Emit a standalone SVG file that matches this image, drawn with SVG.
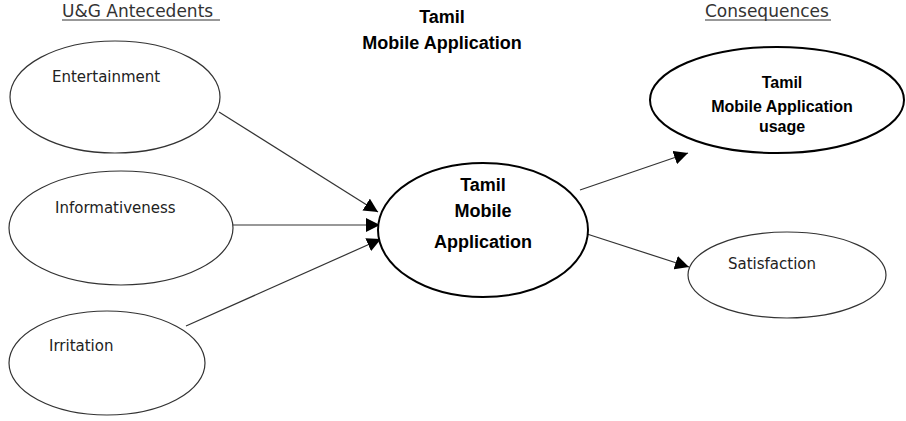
<svg xmlns="http://www.w3.org/2000/svg" width="906" height="421" viewBox="0 0 906 421">
<defs>
<style>
.lbl{font-family:"DejaVu Sans",sans-serif;font-size:15px;fill:#222}
.hdr{font-family:"DejaVu Sans",sans-serif;font-size:17px;fill:#333}
.bold{font-family:"Liberation Sans",Arial,sans-serif;font-weight:bold;fill:#000;text-anchor:middle}
.thin{fill:#fff;stroke:#333;stroke-width:1.2}
.thick{fill:#fff;stroke:#000;stroke-width:2}
.conn{stroke:#333;stroke-width:1.2;fill:none;marker-end:url(#ah)}
</style>
<marker id="ah" viewBox="0 0 10 10" refX="10" refY="5" markerWidth="14" markerHeight="14" markerUnits="userSpaceOnUse" orient="auto">
<path d="M0,0 L10,5 L0,10 z" fill="#000"/>
</marker>
</defs>
<rect width="906" height="421" fill="#fff"/>
<g id="headers">
<text class="hdr" x="62" y="17">U&amp;G Antecedents</text>
<line x1="62" y1="20" x2="220" y2="20" stroke="#333" stroke-width="1"/>
<text class="hdr" x="705" y="17">Consequences</text>
<line x1="705" y1="20" x2="831" y2="20" stroke="#333" stroke-width="1"/>
<text class="bold" x="442" y="23" font-size="18">Tamil</text>
<text class="bold" x="442" y="49" font-size="18">Mobile Application</text>
</g>
<g id="connectors">
<line class="conn" x1="219" y1="112" x2="378" y2="212"/>
<line class="conn" x1="233" y1="225" x2="380" y2="225"/>
<line class="conn" x1="186" y1="326" x2="381" y2="239"/>
<line class="conn" x1="580" y1="190" x2="688" y2="153"/>
<line class="conn" x1="587" y1="234" x2="689" y2="267"/>
</g>
<g id="entertainment">
<ellipse class="thin" cx="115" cy="97" rx="105" ry="56"/>
<text class="lbl" x="52" y="82">Entertainment</text>
</g>
<g id="informativeness">
<ellipse class="thin" cx="121" cy="228" rx="112" ry="57"/>
<text class="lbl" x="55" y="213">Informativeness</text>
</g>
<g id="irritation">
<ellipse class="thin" cx="107" cy="363" rx="98" ry="52"/>
<text class="lbl" x="49" y="351">Irritation</text>
</g>
<g id="center">
<ellipse class="thick" cx="483" cy="230" rx="105" ry="67"/>
<text class="bold" x="483" y="191" font-size="18">Tamil</text>
<text class="bold" x="483" y="217" font-size="18">Mobile</text>
<text class="bold" x="483" y="248" font-size="18">Application</text>
</g>
<g id="usage">
<ellipse class="thick" cx="777" cy="100" rx="127" ry="53"/>
<text class="bold" x="782" y="88" font-size="16">Tamil</text>
<text class="bold" x="782" y="112" font-size="16">Mobile Application</text>
<text class="bold" x="782" y="132" font-size="16">usage</text>
</g>
<g id="satisfaction">
<ellipse class="thin" cx="787" cy="275" rx="99" ry="43"/>
<text class="lbl" x="728" y="269">Satisfaction</text>
</g>
</svg>
